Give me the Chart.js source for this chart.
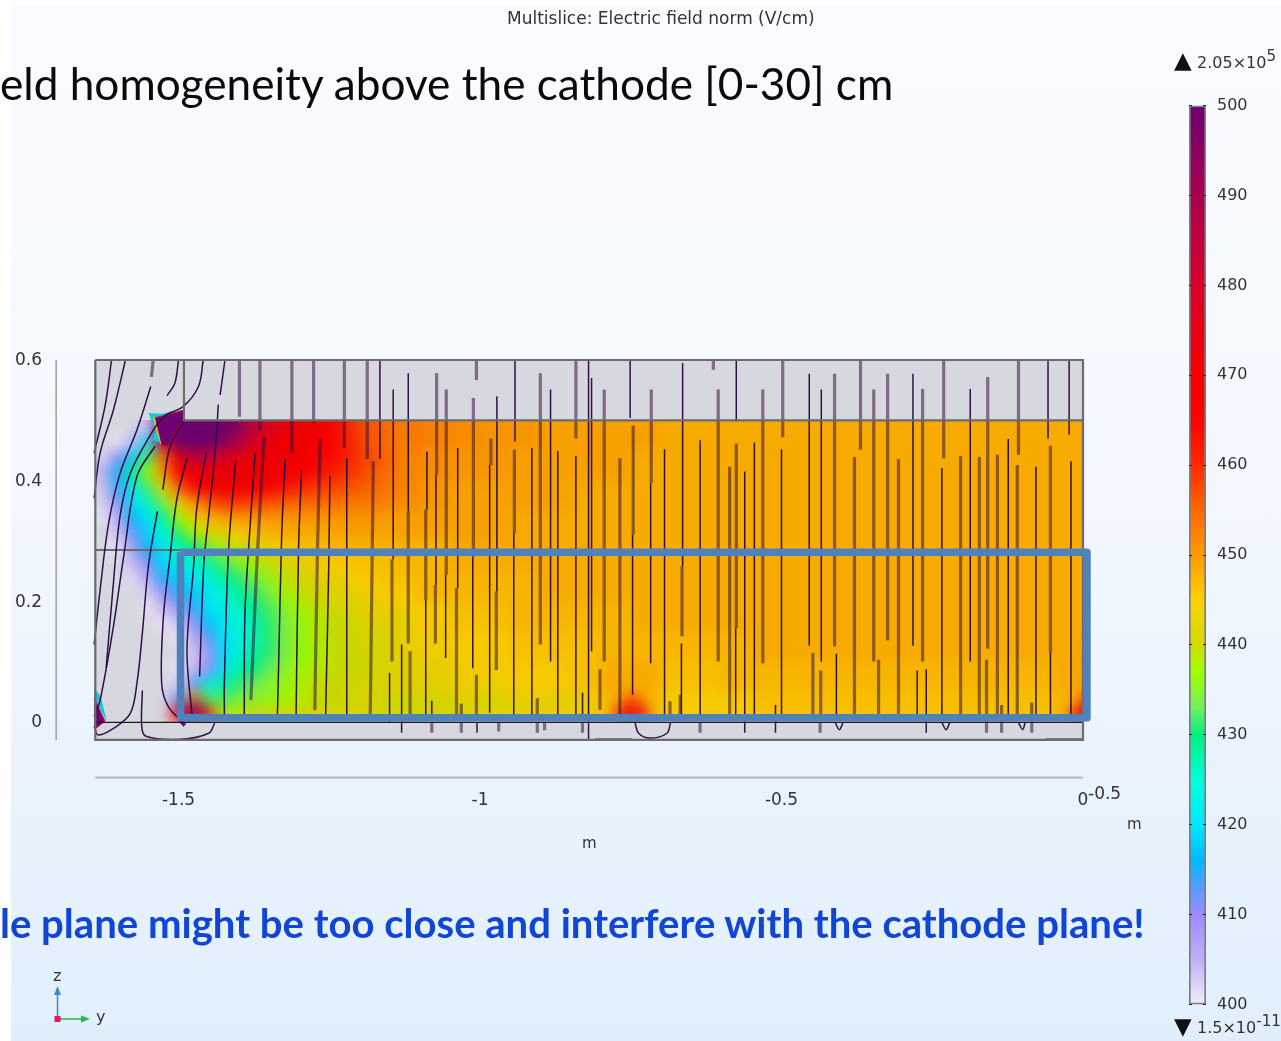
<!DOCTYPE html>
<html>
<head>
<meta charset="utf-8">
<title>Multislice</title>
<script src="https://cdn.jsdelivr.net/npm/chart.js@4/dist/chart.umd.min.js"></script>
<style>
  html,body{margin:0;padding:0;background:#fff;overflow:hidden;width:1281px;height:1041px}
  #panel{position:absolute;left:11px;top:6px;right:0;bottom:0;background:linear-gradient(#fafbff 0%,#f4f8fe 45%,#e1effd 100%)}
  #air{position:absolute;left:95px;top:360px;width:988px;height:380px;background:#d7d7e0}
  #heatClip{position:absolute;left:0;top:0;width:1281px;height:1041px;
    clip-path:polygon(95px 420px,1083px 420px,1083px 722px,95px 722px)}
  #heat{position:absolute;left:0;top:0;filter:blur(7px)}
  #main{position:absolute;left:0;top:0}
  #bar{position:absolute;left:1160px;top:85px}
  .t{position:absolute;white-space:nowrap;font-family:"DejaVu Sans",sans-serif;color:#333;line-height:1}
  .t sup{font-size:.95em;line-height:0;vertical-align:.45em}
  .slide{font-family:Lato,"Open Sans",sans-serif;color:#0a0a0a;font-size:44.15px}
  .note{font-family:Lato,"Open Sans",sans-serif;font-weight:700;color:#1145d6;font-size:40.1px}
</style>
</head>
<body>
<div id="panel"></div>
<div id="air"></div>
<div id="heatClip"><canvas id="heat" width="1281" height="1041"></canvas></div>
<canvas id="main" width="1281" height="1041"></canvas>
<canvas id="bar" width="121" height="940"></canvas>

<div class="t" style="left:507px;top:10px;font-size:17px">Multislice: Electric field norm (V/cm)</div>
<div class="t slide" style="left:0;top:61px">eld homogeneity above the cathode [0-30] cm</div>
<div class="t note" style="left:0;top:903px">le plane might be too close and interfere with the cathode plane!</div>
<div class="t" style="left:1088px;top:785px;font-size:17px">-0.5</div>
<div class="t" style="left:1127px;top:817px;font-size:15px">m</div>
<div class="t" style="left:582px;top:836px;font-size:15px">m</div>
<div class="t" style="left:1174px;top:49px;font-size:23px;color:#111">▲</div>
<div class="t" style="left:1197px;top:55px;font-size:16px">2.05×10<sup>5</sup></div>
<div class="t" style="left:1174px;top:1015px;font-size:23px;color:#111">▼</div>
<div class="t" style="left:1197px;top:1020px;font-size:16px">1.5×10<sup>-11</sup></div>
<div class="t" style="left:53px;top:968px;font-size:16px">z</div>
<div class="t" style="left:96px;top:1009px;font-size:16px">y</div>
<svg style="position:absolute;left:45px;top:980px" width="50" height="50">
  <line x1="12.5" y1="39" x2="12.5" y2="12" stroke="#3d8ac4" stroke-width="1.5"/>
  <polygon points="12.5,6 9,15 16,15" fill="#3d8ac4"/>
  <line x1="12.5" y1="39" x2="37" y2="39" stroke="#2fb24a" stroke-width="1.5"/>
  <polygon points="45,39 36,35.5 36,42.5" fill="#2fb24a"/>
  <rect x="9.5" y="36" width="6" height="6" fill="#e8185c"/>
</svg>

<script>
// axis ticks
const yTicks=[-1.5,-1,-0.5,0];
const zTicks=[0,0.2,0.4,0.6];
const barTicks=[400,410,420,430,440,450,460,470,480,490,500];

// colour scale of the field, V/cm
const stopValues=[400,405,410,413,416,420,425,430,433,437,440,445,450,455,460,465,470,480,490,500];
const stopColors=['#f0ecfa','#c0b0f6','#9a8cff','#5a9cff','#00b8ff','#00e8ff','#00ffd8','#00f080','#70f060','#a0ff00','#d0dc00','#ffd000','#ff9a00','#ff6800','#ff2a00','#ff0000','#f40000','#d8002a','#a80050','#6e0070'];

// field readings, left part of the slice (value 399 = below range, shown as the grey)
const fineY=[-1.625,-1.6,-1.575,-1.55,-1.525,-1.5,-1.475,-1.45,-1.425,-1.4,-1.375,-1.35,-1.325,-1.3,-1.275,-1.25,-1.225,-1.2,-1.175,-1.15,-1.125];
const fineZ=[0.4875,0.4625,0.4375,0.4125,0.3875,0.3625,0.3375,0.3125,0.2875,0.2625,0.2375,0.2125,0.1875,0.1625,0.1375,0.1125,0.0875,0.0625,0.0375,0.0125];
const fineField=[
 [399,399,399,404,500,500,500,500,500,495,485,478,472,470,468,466,462,458,456,454,453],
 [399,400,405,420,480,500,500,500,495,488,480,473,470,469,467,465,462,459,456,454,452],
 [402,410,418,432,455,475,485,482,478,474,471,470,470,468,466,464,462,459,457,455,452],
 [405,415,428,437,450,465,470,471,471,470,470,470,469,466,464,462,460,458,456,454,452],
 [403,414,422,432,442,455,464,468,470,470,469,466,463,461,459,458,457,456,455,453,452],
 [402,410,420,426,434,443,450,456,459,459,458,457,456,455,455,454,454,453,453,452,451],
 [400,406,416,421,428,437,443,447,449,450,450,450,450,450,450,450,450,450,450,449,449],
 [399,403,412,419,424,431,437,441,443,445,446,447,448,448,448,448,449,449,449,449,449],
 [399,400,408,416,421,426,430,434,437,440,441,443,445,446,446,447,447,447,447,447,447],
 [399,399,404,411,419,423,424,428,432,435,437,440,441,442,444,445,445,446,446,446,447],
 [399,399,401,406,415,419,421,424,428,431,434,436,439,441,442,443,444,445,445,446,446],
 [399,399,399,402,409,414,418,421,425,428,431,434,437,439,441,442,443,444,444,445,445],
 [399,399,399,400,404,409,414,420,423,426,429,432,435,437,439,440,441,442,443,444,444],
 [399,399,399,399,400,403,409,417,421,424,427,431,434,436,438,439,440,441,442,443,443],
 [399,399,399,399,399,400,405,412,420,423,426,431,434,436,438,439,440,441,441,442,443],
 [399,399,399,399,399,399,403,408,419,424,428,431,434,436,437,439,440,440,441,442,443],
 [399,399,399,399,399,400,404,410,420,427,430,433,435,437,438,439,440,440,441,442,442],
 [399,399,399,399,399,402,412,422,427,431,433,435,436,438,439,440,440,441,441,442,442],
 [399,399,399,399,399,412,450,432,432,434,435,436,437,438,439,440,440,441,441,441,441],
 [399,399,399,399,399,470,490,460,438,439,440,440,441,441,441,441,441,441,441,441,441]
];

// field readings, the rest of the slice
const coarseY=[-1.125,-1.075,-1.025,-0.975,-0.925,-0.875,-0.825,-0.775,-0.725,-0.675,-0.625,-0.575,-0.525,-0.475,-0.425,-0.375,-0.325,-0.275,-0.225,-0.175,-0.125,-0.075,-0.025,0.025];
const coarseZ=[0.475,0.425,0.375,0.325,0.275,0.225,0.175,0.125,0.075,0.025];
const coarseField=[
 [454,452,451,450,450,449,449,449,449,448,448,448,448,448,448,448,448,448,448,448,448,448,448,448],
 [452,451,450,450,449,449,449,449,448,448,448,448,448,448,448,448,448,448,448,448,448,448,448,448],
 [451,450,449,449,449,449,448,448,448,448,448,448,448,448,448,448,448,448,448,448,448,448,448,448],
 [449,449,449,449,448,448,448,448,448,448,448,448,448,448,448,448,448,448,448,448,448,448,448,448],
 [447,447,448,448,448,448,448,448,448,448,448,448,448,448,448,448,448,448,448,448,448,448,448,448],
 [446,447,447,447,447,448,448,448,448,448,448,448,448,448,448,448,448,448,448,448,448,448,448,448],
 [445,445,446,446,447,447,447,447,448,448,448,448,448,448,448,448,448,448,448,448,448,448,448,448],
 [444,444,445,445,446,446,446,447,447,447,447,447,448,448,448,448,448,448,448,448,448,448,448,449],
 [443,443,444,444,445,445,446,448,448,446,446,447,447,447,447,447,447,447,447,447,447,447,448,450],
 [441,441,442,442,443,443,444,447,447,445,445,445,446,446,446,446,446,446,446,446,446,446,447,462]
];

// small hot spots at the electrode edges: y, z, field
const hotSpots=[[-0.762,0.0125,474],[-0.735,0.0125,474],[-0.748,0.034,458],[-0.006,0.0125,476],[-1.472,0.02,495]];

// geometry outlines
const frameY=[-1.638,0,0,-1.638,-1.638];
const frameZ=[0.6,0.6,-0.03,-0.03,0.6];
const slabY=[-1.491,-1.491,0];
const slabZ=[0.6,0.5,0.5];
const midY=[-1.638,-1.49];
const midZ=[0.285,0.285];
const floorY=[-1.638,0];
const floorZ=[-0.001,-0.001];
const zAxisY=[-1.703,-1.703];
const zAxisZ=[0.6,-0.03];
const yAxisY=[-1.638,0];
const yAxisZ=[-0.0925,-0.0925];
// region drawn over the plot by hand on the slide
const boxY=[-1.4967,0.0066,0.0066,-1.4967,-1.4967];
const boxZ=[0.281,0.281,0.0066,0.0066,0.281];

// sharp corners of the field, [y,z]
const starRim=[[-1.55,0.512],[-1.528,0.511],[-1.492,0.519],[-1.539,0.504],[-1.528,0.462],[-1.543,0.467],[-1.538,0.484]];
const starEdge=[[-1.54,0.505],[-1.534,0.482],[-1.527,0.46]];
const starCore=[[-1.539,0.504],[-1.491,0.517],[-1.491,0.5],[-1.503,0.484],[-1.517,0.457],[-1.528,0.459]];
const cornerRim=[[-1.64,0.056],[-1.629,0.042],[-1.619,0.001],[-1.64,0.039]];
const cornerCore=[[-1.64,0.039],[-1.622,0.001],[-1.64,-0.013]];
const stubCore=[[-1.5,0.001],[-1.487,-0.001],[-1.492,-0.008]];

// straight field lines, [y, z top, z bottom]
const thinLines=[
 [-1.088,0.448,0.352],[-1.09,0.202,0.013],[-1.073,0.41,0.227],[-1.057,0.244,0.106],[-1.037,0.454,0.222],[-1.012,0.274,0.089],
 [-0.984,0.426,0.015],[-0.972,0.54,0.216],[-0.942,0.6,0.465],[-0.944,0.313,0.013],[-0.914,0.454,0.013],[-0.883,0.551,0.1],
 [-0.871,0.449,0.013],[-0.841,0.441,0.013],[-0.82,0.6,-0.03],[-0.815,0.57,0.117],[-0.751,0.6,0.504],[-0.747,0.31,0.045],
 [-0.717,0.396,0.097],[-0.694,0.452,0.013],[-0.664,0.595,0.258],[-0.666,0.13,0.013],[-0.635,0.467,0.013],[-0.575,0.6,0.498],
 [-0.576,0.155,0.013],[-0.561,0.415,-0.018],[-0.545,0.463,0.013],[-1.08,0.035,0.013],[-0.83,0.048,0.013],[-1.005,-0.001,-0.018],
 [-0.5,0.452,0.013],[-0.454,0.577,0.126],[-0.434,0.551,0.1],[-0.409,0.113,0.013],[-0.282,0.577,0.126],[-0.275,0.085,0.013],
 [-0.26,0.087,-0.018],[-0.234,0.421,0.013],[-0.187,0.552,0.1],[-0.124,0.469,0.013],[-0.078,0.423,0.013],[-0.058,0.6,0.47],
 [-0.054,0.114,0.013],[-0.023,0.6,0.476],[-0.02,0.432,0.013],[-0.51,0.028,-0.018],
 [-1.166,0.6,0.436],[-1.144,0.551,0.269],[-1.119,0.578,0.35],[-1.13,0.128,-0.018],[-1.15,0.081,-0.002],[-1.221,0.437,0.013]
];
const thickLines=[
 [-1.09,0.352,0.202],[-1.072,0.578,0.41],[-1.074,0.227,0.13],[-1.056,0.551,0.244],[-1.039,0.222,0.013],[-1.011,0.537,0.274],
 [-1.006,0.6,0.567],[-1.006,0.078,0.013],[-0.982,0.47,0.426],[-0.973,0.216,0.086],[-0.943,0.451,0.313],[-0.9,0.578,0.128],
 [-0.841,0.6,0.47],[-0.794,0.551,0.1],[-0.801,0.087,0.02],[-0.768,0.437,0.013],[-0.746,0.491,0.31],[-0.716,0.551,0.396],
 [-0.665,0.258,0.142],[-0.605,0.551,0.1],[-0.613,0.6,0.584],[-0.575,0.461,0.155],[-0.586,0.423,0.013],[-1.031,0.03,0.013],
 [-0.905,0.039,0.013],[-0.685,0.034,0.013],[-0.668,0.045,0.013],[-1.08,-0.001,-0.018],[-1.031,-0.001,-0.018],[-0.969,-0.001,-0.016],
 [-0.905,-0.001,-0.018],[-0.893,-0.001,-0.014],[-0.83,-0.001,-0.018],[-0.635,-0.001,-0.018],
 [-0.531,0.551,0.097],[-0.498,0.6,0.472],[-0.435,0.085,0.013],[-0.448,0.114,0.013],[-0.412,0.577,0.125],[-0.379,0.439,0.013],
 [-0.369,0.6,0.451],[-0.347,0.551,0.1],[-0.339,0.103,0.013],[-0.324,0.577,0.135],[-0.306,0.436,0.013],[-0.266,0.552,0.1],
 [-0.231,0.6,0.437],[-0.203,0.441,0.013],[-0.172,0.439,0.013],[-0.158,0.572,0.121],[-0.16,0.103,-0.018],[-0.142,0.443,0.013],
 [-0.107,0.6,0.443],[-0.109,0.426,0.013],[-0.054,0.458,0.114],[-0.135,0.028,-0.018],[-0.085,0.032,-0.018],[-0.436,-0.001,-0.018],
 [-1.399,0.6,0.506],[-1.365,0.6,0.484],[-1.312,0.6,0.446],[-1.276,0.6,0.495],[-1.225,0.6,0.454],[-1.187,0.6,0.436],
 [-1.146,0.269,0.1],[-1.119,0.35,0.13],[-1.116,0.117,0.013]
];

// bent field lines near the edge, lists of [y,z]
const bentThin=[
 [[-1.611,0.6],[-1.622,0.523],[-1.64,0.446]],
 [[-1.588,0.6],[-1.608,0.517],[-1.63,0.446],[-1.64,0.371]],
 [[-1.546,0.556],[-1.569,0.484],[-1.597,0.412],[-1.616,0.329],[-1.63,0.219],[-1.64,0.128]],
 [[-1.5,0.6],[-1.506,0.562],[-1.519,0.541]],
 [[-1.459,0.6],[-1.467,0.556],[-1.492,0.523],[-1.525,0.506],[-1.55,0.47],[-1.58,0.412],[-1.597,0.341],[-1.608,0.23],[-1.62,0.089]],
 [[-1.423,0.6],[-1.431,0.542]],
 [[-1.539,0.457],[-1.569,0.407],[-1.591,0.274],[-1.608,0.158],[-1.63,0.036],[-1.64,0.009]],
 [[-1.491,0.5],[-1.514,0.457],[-1.526,0.385]],
 [[-1.486,0.437],[-1.503,0.368],[-1.514,0.274],[-1.525,0.175],[-1.528,0.064],[-1.517,0.025],[-1.492,-0.002]],
 [[-1.535,0.349],[-1.55,0.258],[-1.56,0.147],[-1.569,0.064],[-1.58,0.014],[-1.608,-0.011],[-1.633,-0.022],[-1.64,-0.008]],
 [[-1.56,0.052],[-1.561,-0.008],[-1.554,-0.024],[-1.497,-0.029],[-1.45,-0.019],[-1.44,-0.002]],
 [[-1.434,0.526],[-1.439,0.451],[-1.45,0.341],[-1.458,0.263],[-1.465,0.075]],
 [[-1.454,0.446],[-1.47,0.352],[-1.475,0.258],[-1.486,0.119],[-1.478,0.014]],
 [[-1.373,0.446],[-1.384,0.285],[-1.39,0.175],[-1.391,0.013]],
 [[-1.405,0.434],[-1.417,0.285],[-1.424,0.064],[-1.424,0.013]],
 [[-1.323,0.437],[-1.329,0.307],[-1.334,0.092],[-1.336,0.013]],
 [[-1.296,0.418],[-1.301,0.285],[-1.305,0.013]],
 [[-1.249,0.407],[-1.251,0.252],[-1.256,0.013]],
 [[-0.743,-0.001],[-0.737,-0.019],[-0.718,-0.027],[-0.69,-0.019],[-0.684,-0.001]],
 [[-0.809,-0.029],[-0.748,-0.029]],
 [[-0.062,-0.029],[-0.002,-0.029]],
 [[-0.411,-0.001],[-0.404,-0.013],[-0.398,-0.001]],
 [[-0.234,-0.001],[-0.227,-0.013],[-0.221,-0.001]],
 [[-0.107,-0.001],[-0.1,-0.013],[-0.096,-0.001]]
];
const bentThick=[
 [[-1.542,0.6],[-1.545,0.572]],
 [[-1.358,0.472],[-1.37,0.263],[-1.38,0.036]],
 [[-1.265,0.47],[-1.27,0.263],[-1.274,0.019]],
 [[-1.177,0.432],[-1.182,0.013]]
];

const PX_FINE=11.4, PX_COARSE=22; // cell half diagonals, slightly overlapping

function hexRgb(h){ return [1,3,5].map(i=>parseInt(h.substr(i,2),16)); }
function fieldColor(v,shade){
  if(v<400) return '#d7d7e0';
  let i=stopValues.findIndex(s=>s>=v);
  if(i<=0) i=1;
  const f=(v-stopValues[i-1])/(stopValues[i]-stopValues[i-1]);
  const a=hexRgb(stopColors[i-1]), b=hexRgb(stopColors[i]);
  const c=a.map((p,k)=>Math.round((p+(b[k]-p)*f)*shade));
  return `rgb(${c[0]},${c[1]},${c[2]})`;
}

function cells(ys,zs,rows){
  const out=[];
  rows.forEach((row,r)=>row.forEach((v,c)=>out.push({x:ys[c],y:zs[r],v})));
  // repeat the top row past the slab edge so the soft edge is cut by the clip and does not fade
  rows[0].forEach((v,c)=>out.push({x:ys[c],y:zs[0]+(zs[0]-zs[1]),v}));
  return out;
}
function heatSet(data,radius,order){
  return {data,order,pointStyle:'rect',pointRadius:radius,pointBorderWidth:0,showLine:false,clip:false,
    pointBackgroundColor:ctx=>fieldColor(ctx.raw.v,0.97)};
}

new Chart(document.getElementById('heat'),{
  type:'scatter',
  data:{datasets:[
    heatSet(hotSpots.map(h=>({x:h[0],y:h[1],v:h[2]})),PX_FINE,0),
    heatSet(cells(fineY,fineZ,fineField),PX_FINE,1),
    heatSet(cells(coarseY,coarseZ,coarseField),PX_COARSE,2)
  ]},
  options:{
    responsive:false,animation:false,events:[],
    layout:{padding:{left:56,top:360,right:167.85,bottom:263}},
    plugins:{legend:{display:false},tooltip:{enabled:false}},
    scales:{x:{display:false,min:-1.7032,max:0.05},y:{display:false,min:-0.0932,max:0.6}}
  }
});

const pts=(ys,zs)=>ys.map((y,i)=>({x:y,y:zs[i]}));
const pairs=a=>a.map(p=>({x:p[0],y:p[1]}));
function lineSet(data,color,width,order,extra){
  return Object.assign({data,showLine:true,pointRadius:0,borderColor:color,borderWidth:width,order,clip:false,tension:0},extra||{});
}
const THIN='rgba(38,8,62,0.95)', THICK='rgba(52,18,58,0.55)';
const datasets=[
  lineSet(pts(boxY,boxZ),'#4f81bd',7.5,0,{borderJoinStyle:'round'}),
  lineSet(pts(floorY,floorZ),'#1a1a1a',1.4,3),
  lineSet(pts(frameY,frameZ),'#6c6c6c',2.2,1),
  lineSet(pts(slabY,slabZ),'#6c6c6c',2.2,1),
  lineSet(pts(midY,midZ),'#6c6c6c',2,3),
  lineSet(pts(zAxisY,zAxisZ),'#8b8b8b',1.2,1),
  lineSet(pts(yAxisY,yAxisZ),'#bcbcbc',2.4,1),
  lineSet(pairs(starRim),'rgba(0,0,0,0)',0,6,{fill:'shape',backgroundColor:'#18c8d8'}),
  lineSet(pairs(starEdge),'#ffb000',3,5),
  lineSet(pairs(starCore),'#d80030',1,4,{fill:'shape',backgroundColor:'#6e0070'}),
  lineSet(pairs(cornerRim),'rgba(0,0,0,0)',0,6,{fill:'shape',backgroundColor:'#18c8d8'}),
  lineSet(pairs(cornerCore),'#d80030',1,4,{fill:'shape',backgroundColor:'#6e0070'}),
  lineSet(pairs(stubCore),'#6e0070',1,4,{fill:'shape',backgroundColor:'#6e0070'})
];
thinLines.forEach(l=>datasets.push(lineSet([{x:l[0],y:l[1]},{x:l[0],y:l[2]}],THIN,1.5,2)));
thickLines.forEach(l=>datasets.push(lineSet([{x:l[0],y:l[1]},{x:l[0],y:l[2]}],THICK,3.2,2)));
bentThin.forEach(l=>datasets.push(lineSet(pairs(l),THIN,1.5,2,{tension:0.35})));
bentThick.forEach(l=>datasets.push(lineSet(pairs(l),THICK,3.2,2,{tension:0.35})));

new Chart(document.getElementById('main'),{
  type:'scatter',
  data:{datasets},
  options:{
    responsive:false,animation:false,events:[],
    layout:{padding:{left:0,top:360,right:198,bottom:0}},
    plugins:{legend:{display:false},tooltip:{enabled:false}},
    scales:{
      x:{min:-1.7032,max:0,
        afterBuildTicks(s){ s.ticks=yTicks.map(v=>({value:v})); },
        afterFit(s){ s.height=263; },
        grid:{display:false,drawTicks:false},border:{display:false},
        ticks:{autoSkip:false,maxRotation:0,padding:12,color:'#333',font:{family:'DejaVu Sans',size:17},
          callback:v=>String(v)}
      },
      y:{min:-0.0932,max:0.6,
        afterBuildTicks(s){ s.ticks=zTicks.map(v=>({value:v})); },
        afterFit(s){ s.width=56; },
        grid:{display:false,drawTicks:false},border:{display:false},
        ticks:{padding:14,labelOffset:1,color:'#333',font:{family:'DejaVu Sans',size:17},callback:v=>String(v)}
      }
    }
  }
});

// colour bar
new Chart(document.getElementById('bar'),{
  type:'bar',
  data:{labels:['V/cm'],datasets:[{
    data:[[400,500]],
    barPercentage:1,categoryPercentage:1,
    borderColor:'#7d7d85',borderWidth:2,borderSkipped:false,
    backgroundColor(ctx){
      const a=ctx.chart.chartArea, sc=ctx.chart.scales.y;
      if(!a) return '#888';
      const g=ctx.chart.ctx.createLinearGradient(0,sc.getPixelForValue(400),0,sc.getPixelForValue(500));
      stopValues.forEach((v,i)=>g.addColorStop((v-400)/100,stopColors[i]));
      return g;
    }
  }]},
  options:{
    responsive:false,animation:false,events:[],
    layout:{padding:{left:29,top:10,right:0,bottom:12}},
    plugins:{legend:{display:false},tooltip:{enabled:false}},
    scales:{
      x:{display:false},
      y:{position:'right',min:400,max:500,
        afterBuildTicks(s){ s.ticks=barTicks.map(v=>({value:v})); },
        afterFit(s){ s.width=75; },
        grid:{color:'#222',drawTicks:false,z:1},
        border:{display:false,dash:[3,11,3]},
        ticks:{padding:11,color:'#333',font:{family:'DejaVu Sans',size:16}}
      }
    }
  }
});
</script>
</body>
</html>
